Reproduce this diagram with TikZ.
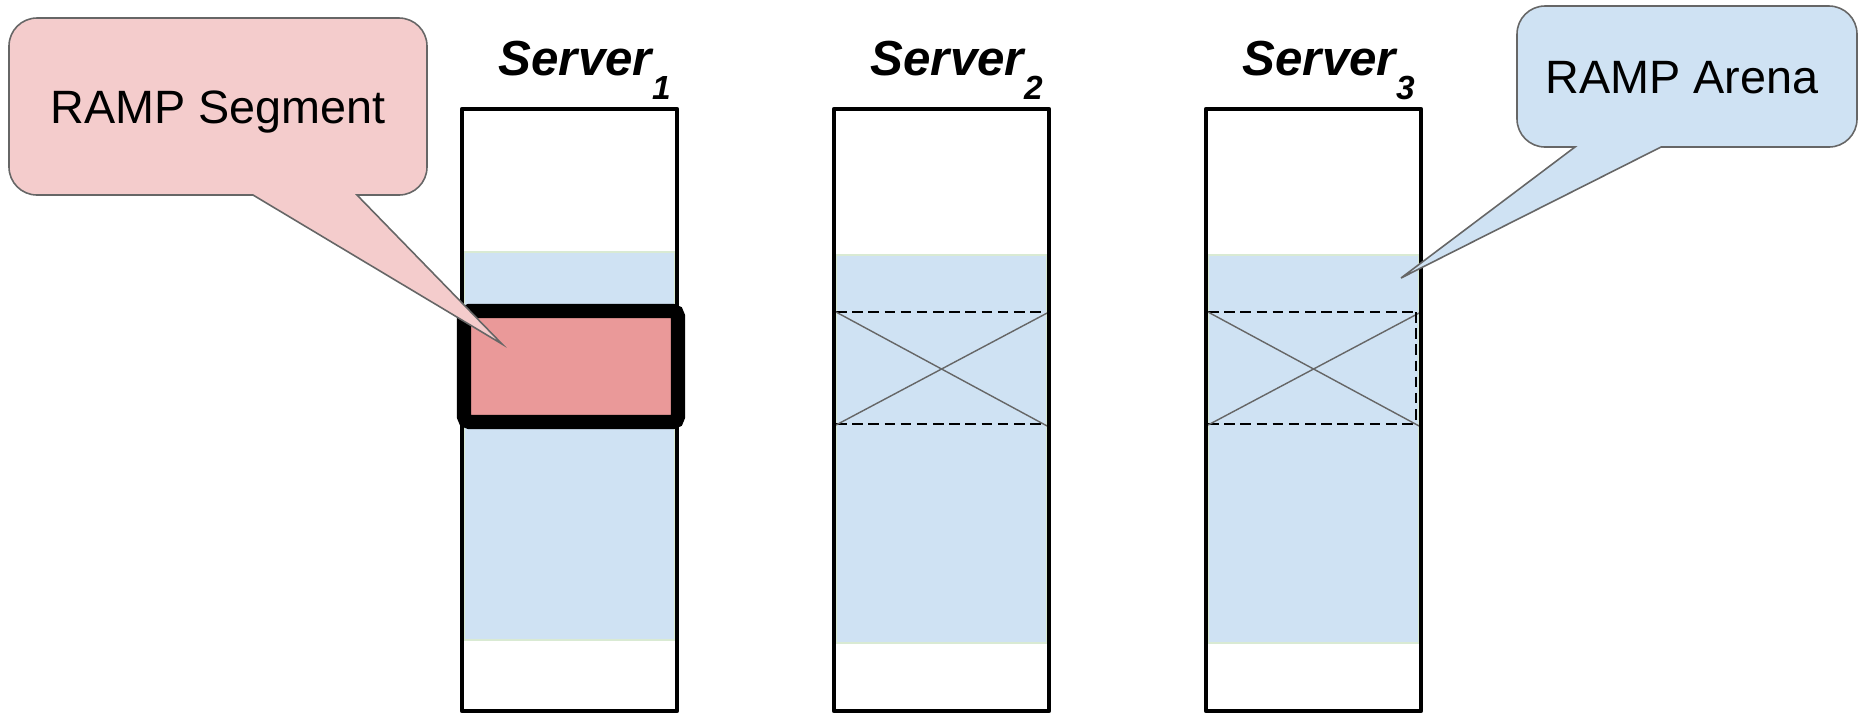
\documentclass[tikz,border=0pt]{standalone}
\usepackage{fontspec}
\setmainfont{Liberation Sans}
\definecolor{segred}{HTML}{EA9999}
\definecolor{calloutred}{HTML}{F4CCCC}
\definecolor{arenablue}{HTML}{CFE2F3}
\definecolor{arenaedge}{HTML}{D9EAD3}
\definecolor{outlinegray}{HTML}{666666}

\begin{document}
\begin{tikzpicture}[x=0.01cm,y=-0.01cm,
  serverbox/.style={line width=1.3pt,line join=round},
  arena/.style={fill=arenablue,draw=arenaedge,line width=0.3pt},
  slot/.style={dash pattern=on 3pt off 1.6pt,line width=0.45pt},
  cross/.style={outlinegray,line width=0.4pt},
  callout/.style={draw=outlinegray,line width=0.45pt},
  lbl/.style={font=\fontsize{14}{15}\selectfont\bfseries\itshape,anchor=base west,inner sep=0pt},
  ctext/.style={font=\fontsize{13.3}{16}\selectfont,anchor=base,inner sep=0pt}]
  \useasboundingbox (0,0) rectangle (1860,714);
  % arena on every server
  \draw[arena] (464,252) rectangle (675,640);
  \foreach \x in {834,1206} {
    \draw[arena] (\x+2,255) rectangle (\x+213,643);
    \draw[slot] (\x+2,312) -- (\x+211,312);
    \draw[slot] (\x+2,424) -- (\x+211,424);
    \draw[cross] (\x+2,312) -- (\x+215,427);
    \draw[cross] (\x+2,425) -- (\x+215,312);
  }
  \draw[slot] (1416,312) -- (1416,424);
  % servers
  \foreach \i/\x in {1/462,2/834,3/1206} {
    \draw[serverbox] (\x,109) rectangle (\x+215,711);
    \node[lbl] (srv\i) at (\x+36,75) {Server\raisebox{-7pt}{\fontsize{9.5}{10}\selectfont\i}};
  }
  % segment
  \draw[line width=4pt,rounded corners=1.5pt,fill=segred] (464,311) rectangle (678,422);
  % callouts
  \draw[callout,fill=calloutred] (502,344) -- (253,195) [rounded corners=0.28cm] -- (9,195)
    -- (9,18) -- (427,18) -- (427,195) [sharp corners] -- (357,195) -- cycle;
  \node[ctext] (seg) at (218,123) {RAMP Segment};
  \draw[callout,fill=arenablue] (1401,278) -- (1575,147) [rounded corners=0.28cm] -- (1517,147)
    -- (1517,6) -- (1857,6) -- (1857,147) [sharp corners] -- (1661,147) -- cycle;
  \node[ctext] (are) at (1682,93) {RAMP Arena};
\end{tikzpicture}
\end{document}
